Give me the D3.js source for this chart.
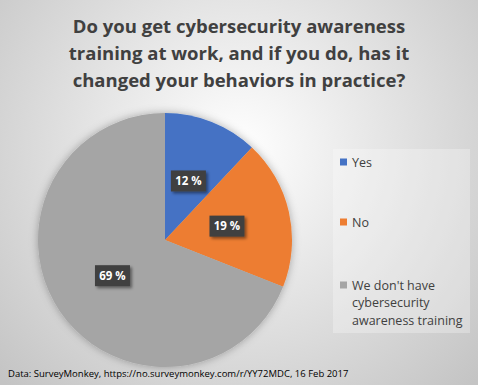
<!DOCTYPE html>
<html><head><meta charset="utf-8">
<script src="https://cdn.jsdelivr.net/npm/d3@7"></script>
<style>body{margin:0;}svg{display:block;}</style>
</head><body>
<script>
const titleLines = ["Do you get cybersecurity awareness", "training at work, and if you do, has it", "changed your behaviors in practice?"];
const categories = ["Yes", "No", "We don't have cybersecurity awareness training"];
const legendLines = [["Yes"], ["No"], ["We don't have", "cybersecurity", "awareness training"]];
const values = [12, 19, 69];
const colors = ["#4472C4", "#ED7D31", "#A5A5A5"];
const source = "Data: SurveyMonkey, https://no.surveymonkey.com/r/YY72MDC, 16 Feb 2017";

const W = 478, H = 385;
const FONT = "'Open Sans', 'Noto Sans', sans-serif";
const svg = d3.select("body").append("svg").attr("width", W).attr("height", H);
const defs = svg.append("defs");
const rg = defs.append("radialGradient").attr("id", "bg").attr("gradientUnits", "userSpaceOnUse")
  .attr("cx", 239).attr("cy", 150).attr("r", 330);
rg.append("stop").attr("offset", "0%").attr("stop-color", "#ffffff");
rg.append("stop").attr("offset", "100%").attr("stop-color", "#c4c4c4");
const sh = defs.append("filter").attr("id", "sh").attr("x", "-20%").attr("y", "-20%").attr("width", "140%").attr("height", "140%");
sh.append("feDropShadow").attr("dx", 0).attr("dy", 0).attr("stdDeviation", 4).attr("flood-color", "#000").attr("flood-opacity", 0.3);
const sh2 = defs.append("filter").attr("id", "sh2").attr("x", "-30%").attr("y", "-30%").attr("width", "160%").attr("height", "160%");
sh2.append("feDropShadow").attr("dx", 2).attr("dy", 2).attr("stdDeviation", 1.5).attr("flood-color", "#000").attr("flood-opacity", 0.45);

svg.append("rect").attr("width", W).attr("height", H).attr("fill", "url(#bg)");

// Title
svg.append("g").selectAll("text").data(titleLines).join("text")
  .attr("x", 239).attr("y", (d, i) => 33 + i * 27)
  .attr("text-anchor", "middle").attr("font-family", FONT).attr("font-weight", "bold")
  .attr("font-size", 18.5).attr("fill", "#404040").text(d => d);

// Pie
const cx = 165, cy = 240, R = 127;
const pie = d3.pie().sort(null).value(d => d);
const arcs = pie(values);
const arc = d3.arc().innerRadius(0).outerRadius(R);
const g = svg.append("g").attr("transform", `translate(${cx},${cy})`);
g.append("g").attr("filter", "url(#sh)").selectAll("path").data(arcs).join("path")
  .attr("d", arc).attr("fill", (d, i) => colors[i]);

// Labels
const lab = g.append("g").selectAll("g").data(arcs).join("g")
  .attr("transform", d => `translate(${arc.centroid(d)})`);
lab.append("rect").attr("x", -17.5).attr("y", -10.5).attr("width", 35).attr("height", 21)
  .attr("fill", "#404040").attr("filter", "url(#sh2)");
lab.append("text").attr("text-anchor", "middle").attr("dy", "0.36em")
  .attr("font-family", FONT).attr("font-weight", "bold").attr("font-size", 11.5)
  .attr("fill", "#ffffff").text(d => d.value + " %");

// Legend
svg.append("rect").attr("x", 333).attr("y", 149).attr("width", 137).attr("height", 184)
  .attr("fill", "#ffffff").attr("fill-opacity", 0.28);
const legY = [162, 222, 285];
const lg = svg.append("g").selectAll("g").data(categories).join("g")
  .attr("transform", (d, i) => `translate(340,${legY[i]})`);
lg.append("rect").attr("x", 0).attr("y", -3.5).attr("width", 7).attr("height", 7)
  .attr("fill", (d, i) => colors[i]);
lg.each(function (d, i) {
  d3.select(this).selectAll("text").data(legendLines[i]).join("text")
    .attr("x", 12).attr("y", (t, j) => 4.5 + j * 17.5)
    .attr("font-family", FONT).attr("font-size", 12.5).attr("fill", "#404040").text(t => t);
});

// Source
svg.append("text").attr("x", 8).attr("y", 377).attr("font-family", FONT)
  .attr("font-size", 9.5).attr("fill", "#000").text(source);
</script>
</body></html>
